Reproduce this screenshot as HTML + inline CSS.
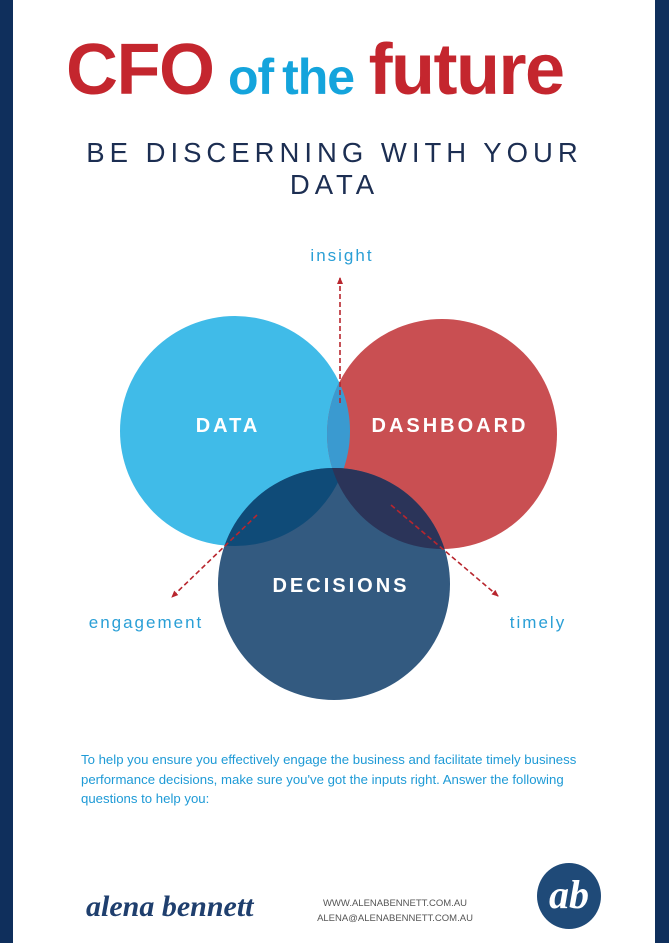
<!DOCTYPE html>
<html><head><style>
body{margin:0;width:669px;height:943px;overflow:hidden;background:#fff;position:relative;font-family:"Liberation Sans",sans-serif}
.bl{position:absolute;top:0;left:0;width:13px;height:943px;background:#0f2f5c}
.br{position:absolute;top:0;right:0;width:14px;height:943px;background:#0f2f5c}
.t{position:absolute;white-space:nowrap}
</style></head><body>
<div class="bl"></div><div class="br"></div>
<div class="t" style="left:66px;top:28px;font-weight:bold;font-size:72px;color:#c4262e;letter-spacing:-1.5px;word-spacing:-4px;line-height:84px">CFO <span style="color:#14a4dc;font-size:50px;letter-spacing:-1px">of the</span> future</div>
<div class="t" style="left:0;width:669px;text-align:center;top:137px;font-size:27.5px;letter-spacing:5px;color:#1c2e52;line-height:32px;white-space:normal">BE DISCERNING WITH YOUR<br>DATA</div>
<svg width="669" height="943" style="position:absolute;left:0;top:0">
<defs>
<clipPath id="a"><circle cx="235" cy="431" r="115"/></clipPath>
<clipPath id="b"><circle cx="442" cy="434" r="115"/></clipPath>
<marker id="m" markerUnits="userSpaceOnUse" markerWidth="8" markerHeight="8" refX="6" refY="4" orient="auto"><path d="M0,1L7,4L0,7z" fill="#b8262e"/></marker>
</defs>
<circle cx="235" cy="431" r="115" fill="#40bbe8"/>
<circle cx="442" cy="434" r="115" fill="#c94f52"/>
<circle cx="442" cy="434" r="115" fill="#3a9ad0" clip-path="url(#a)"/>
<circle cx="334" cy="584" r="116" fill="#335a80"/>
<circle cx="334" cy="584" r="116" fill="#0f4b78" clip-path="url(#a)"/>
<circle cx="334" cy="584" r="116" fill="#2b3459" clip-path="url(#b)"/>
<g stroke="#b8262e" stroke-width="1.6" stroke-dasharray="5,3" fill="none" marker-end="url(#m)">
<line x1="340" y1="403" x2="340" y2="278"/>
<line x1="257" y1="515" x2="172" y2="597"/>
<line x1="391" y1="505" x2="498" y2="596"/>
</g>
<g fill="#fff" font-family="Liberation Sans" font-weight="bold" font-size="20" letter-spacing="3" text-anchor="middle">
<text x="228" y="432">DATA</text>
<text x="450" y="432">DASHBOARD</text>
<text x="341" y="592">DECISIONS</text>
</g>
<g fill="#2a9fd6" font-family="Liberation Sans" font-size="17" letter-spacing="2" text-anchor="middle">
<text x="342" y="261">insight</text>
<text x="146" y="628">engagement</text>
<text x="538" y="628">timely</text>
</g>
</svg>
<div class="t" style="left:81px;top:750px;font-size:13.2px;line-height:19.5px;color:#1e9ad6;white-space:normal;width:518px">To help you ensure you effectively engage the business and facilitate timely business performance decisions, make sure you've got the inputs right. Answer the following questions to help you:</div>
<div class="t" style="left:86px;top:890px;font-family:'Liberation Serif',serif;font-style:italic;font-size:30px;color:#1f3f6e;font-weight:bold">alena bennett</div>
<div class="t" style="left:290px;top:896px;width:210px;text-align:center;font-size:9.5px;line-height:15px;color:#555">WWW.ALENABENNETT.COM.AU<br>ALENA@ALENABENNETT.COM.AU</div>
<div style="position:absolute;left:537px;top:863px;width:64px;height:66px;border-radius:50%;background:#1f4a78;color:#fff;font-family:'Liberation Serif',serif;font-style:italic;font-weight:bold;font-size:40px;text-align:center;line-height:64px">ab</div>
</body></html>
